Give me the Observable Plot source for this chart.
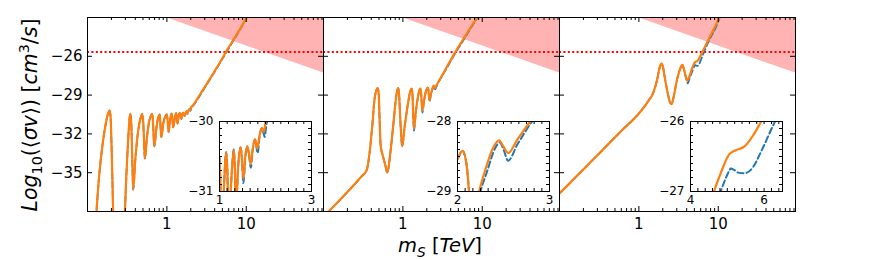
<!DOCTYPE html>
<html><head><meta charset="utf-8">
<script src="https://cdn.jsdelivr.net/npm/d3@7"></script>
<script src="https://cdn.jsdelivr.net/npm/@observablehq/plot@0.6"></script>
<style>
body{margin:0;background:#fff;}
#fig{position:relative;width:871px;height:260px;font-family:"DejaVu Sans";overflow:hidden;}
.box{position:absolute;}
.ylab{position:absolute;left:30px;top:115px;transform:translate(-50%,-50%) rotate(-90deg);white-space:nowrap;font-size:20.5px;line-height:1;}
.xlab{position:absolute;left:440px;top:246px;transform:translate(-50%,-50%);white-space:nowrap;font-size:19.5px;line-height:1;}
sub,sup{font-size:70%;line-height:0;}
</style></head><body><div id="fig">
<div class="ylab"><i>Log</i><sub>10</sub>(⟨<i>σv</i>⟩) [<i>cm</i><sup>3</sup>/<i>s</i>]</div>
<div class="xlab"><i>m</i><sub><i>S</i></sub> [<i>TeV</i>]</div>
</div>
<script>
// ---------- data ----------
const xDomain = [0.1, 94];
const yDomain = [-38, -23];
const yTicks = [-35, -32, -29, -26];
const xMajor = [1, 10];
const xMinor = [0.2,0.3,0.4,0.5,0.6,0.7,0.8,0.9,2,3,4,5,6,7,8,9,20,30,40,50,60,70,80,90];
const relicLine = [-25.66];
const pinkX = [0.97, 94];
const pinkY = [-23, -27.3];

// panel 1 (orange solid, blue dashed)
const p1Orange = [[0.128,-38.5],[0.14,-35.3],[0.155,-32.8],[0.17,-31.2],[0.18,-30.5],[0.189,-30.2],[0.195,-30.6],[0.2,-32.5],[0.206,-35.5],[0.212,-38.5],
[0.29,-38.5],[0.31,-35.0],[0.33,-31.8],[0.34,-30.7],[0.348,-30.45],[0.356,-31.2],[0.366,-33.8],[0.376,-36.3],[0.4,-34.0],[0.43,-32.0],[0.465,-30.8],[0.49,-30.45],[0.505,-31.2],[0.528,-33.9],[0.56,-32.3],[0.6,-31.0],[0.635,-30.55],[0.655,-30.45],[0.67,-31.2],[0.694,-32.96],[0.74,-31.5],[0.78,-30.7],[0.81,-30.5],[0.825,-31.0],[0.85,-32.25],[0.9,-31.2],[0.96,-30.6],[1.0,-30.5],[1.02,-30.9],[1.05,-31.86],[1.1,-30.9],[1.146,-30.44],[1.17,-30.7],[1.2,-31.5],[1.26,-30.8],[1.31,-30.4],[1.33,-30.6],[1.36,-31.2],[1.41,-30.6],[1.46,-30.37],[1.485,-30.5],[1.52,-30.82],[1.56,-30.5],[1.6,-30.35],[1.64,-30.45],[1.68,-30.61],[1.72,-30.4],[1.77,-30.25],[1.795,-30.3],[1.82,-30.39],[1.87,-30.2],[1.92,-30.09],[1.95,-30.12],[1.97,-30.15],[2.0,-30.0],[2.19,-29.7],[2.6,-28.97],[3.2,-28.1],[4.0,-27.15],[5.0,-26.15],[5.5,-25.7],[7.0,-24.65],[8.5,-23.8],[10.0,-23.04],[11.0,-22.5]];
const p1BlueTail = [[1.46,-30.37],[1.485,-30.52],[1.52,-30.88],[1.56,-30.52],[1.6,-30.36],[1.64,-30.47],[1.68,-30.66],[1.72,-30.42],[1.77,-30.26],[1.795,-30.33],[1.83,-30.45],[1.87,-30.22],[1.92,-30.1],[1.95,-30.15],[1.98,-30.22],[2.02,-30.05],[2.19,-29.75],[2.6,-29.05],[3.2,-28.15],[4.0,-27.2],[5.0,-26.2],[5.5,-25.78],[7.0,-24.72],[8.5,-23.85],[10.1,-23.0],[11.0,-22.5]];

// panel 2
const p2Orange = [[0.1,-38.4],[0.2,-36.5],[0.3,-35.3],[0.35,-34.8],[0.38,-33.5],[0.41,-31.5],[0.44,-29.3],[0.465,-28.6],[0.48,-28.46],[0.495,-28.8],[0.51,-31.0],[0.525,-32.9],[0.56,-33.7],[0.6,-34.4],[0.636,-35.0],[0.7,-33.3],[0.76,-31.2],[0.82,-29.2],[0.855,-28.55],[0.875,-28.46],[0.895,-28.9],[0.93,-31.0],[0.98,-32.96],[1.05,-31.5],[1.15,-29.8],[1.24,-28.7],[1.29,-28.5],[1.32,-28.9],[1.35,-30.5],[1.38,-31.6],[1.45,-30.4],[1.55,-29.1],[1.63,-28.55],[1.67,-28.5],[1.7,-28.9],[1.73,-29.6],[1.76,-30.2],[1.85,-29.4],[1.95,-28.7],[2.0,-28.54],[2.054,-28.42],[2.1,-28.63],[2.126,-29.0],[2.17,-29.4],[2.235,-29.0],[2.3,-28.7],[2.397,-28.35],[2.45,-28.27],[2.5,-28.36],[2.55,-28.45],[2.65,-28.26],[2.79,-28.0],[3.0,-27.66],[3.5,-26.93],[4.53,-25.72],[6.0,-24.5],[8.5,-23.04],[9.5,-22.6]];
const p2BlueTail = [[1.35,-30.6],[1.38,-31.75],[1.45,-30.45],[1.55,-29.15],[1.63,-28.56],[1.67,-28.5],[1.7,-28.92],[1.73,-29.7],[1.76,-30.35],[1.85,-29.45],[1.95,-28.72],[2.0,-28.54],[2.054,-28.42],[2.1,-28.63],[2.126,-29.0],[2.17,-29.5],[2.25,-29.0],[2.32,-28.72],[2.41,-28.38],[2.46,-28.3],[2.5,-28.4],[2.55,-28.56],[2.65,-28.33],[2.8,-28.02],[3.0,-27.7],[3.5,-27.0],[4.53,-25.8],[6.0,-24.6],[8.6,-23.05],[9.6,-22.6]];

// panel 3
const p3Orange = [[0.1,-36.6],[0.3,-33.65],[0.6,-31.77],[1.03,-30.33],[1.3,-29.5],[1.52,-28.8],[1.7,-27.8],[1.82,-26.9],[1.93,-26.57],[2.0,-26.75],[2.1,-27.5],[2.3,-28.8],[2.45,-29.5],[2.58,-29.7],[2.75,-29.1],[3.0,-27.9],[3.3,-27.0],[3.52,-26.67],[3.7,-27.0],[3.9,-27.6],[4.07,-27.9],[4.3,-27.6],[4.5,-27.25],[4.64,-27.0],[4.85,-26.7],[5.05,-26.47],[5.23,-26.41],[5.46,-26.36],[5.7,-26.2],[5.91,-26.01],[7.0,-25.1],[8.2,-24.25],[9.75,-23.34],[10.5,-22.9]];
const p3BlueTail = [[4.07,-28.0],[4.12,-28.1],[4.4,-27.6],[4.65,-27.25],[4.82,-27.0],[5.0,-26.76],[5.1,-26.67],[5.18,-26.69],[5.3,-26.73],[5.46,-26.74],[5.69,-26.66],[5.9,-26.45],[6.25,-26.05],[7.5,-24.9],[9.46,-23.67],[10.6,-22.9]];

// insets
const inset1X = [1, 3], inset1Y = [-31, -30];
const inset2X = [2, 3], inset2Y = [-29, -28];
const inset3X = [4, 6.5], inset3Y = [-27, -26];
const inset1XLabels = [1, 3], inset2XLabels = [2, 3], inset3XLabels = [4, 6];
const inset1XTicks = [1.167,1.333,1.5,1.667,1.833,2,2.167,2.333,2.5,2.667,2.833];
const inset2XTicks = [2.083,2.167,2.25,2.333,2.417,2.5,2.583,2.667,2.75,2.833,2.917];
const inset3XTicks = [4.2,4.4,4.6,4.8,5,5.2,5.4,5.6,5.8,6,6.2,6.4];
const inset1YTicks = [-30.9,-30.8,-30.7,-30.6,-30.5,-30.4,-30.3,-30.2,-30.1];
const inset2YTicks = [-28.9,-28.8,-28.7,-28.6,-28.5,-28.4,-28.3,-28.2,-28.1];
const inset3YTicks = [-26.9,-26.8,-26.7,-26.6,-26.5,-26.4,-26.3,-26.2,-26.1];

// ---------- build ----------
const toObj = a => a.map(([x, y]) => ({x, y}));
const withTail = (base, tail) => toObj(base.filter(d => d[0] < tail[0][0]).concat(tail));
const pink = pinkX.map((x, i) => ({x, y: pinkY[i]}));
const fmt = d => (d < 0 ? "\u2212" : "") + Math.abs(d);

const ORANGE = "#ff7f0e", BLUE = "#1f77b4";
const fig = document.getElementById("fig");
const FT = 17, FB = 211, H = 260, PW = 236;

function place(svg, left, top) {
  const d = document.createElement("div");
  d.className = "box"; d.style.left = left + "px"; d.style.top = top + "px";
  d.appendChild(svg); fig.appendChild(d);
}

function panel(orange, blue, frameLeft, showY) {
  const mL = showY ? frameLeft : 6, mR = 6, fh = FB - FT;
  const marks = [
    Plot.areaY(pink, {x: "x", y1: "y", y2: yDomain[1], fill: "#ffb3b3", clip: true}),
    Plot.ruleY(relicLine, {stroke: "red", strokeWidth: 2, strokeDasharray: "2,2.4", clip: true}),
    Plot.line(blue, {x: "x", y: "y", stroke: BLUE, strokeWidth: 1.8, strokeDasharray: "6,3", curve: "monotone-x", clip: true}),
    Plot.line(orange, {x: "x", y: "y", stroke: ORANGE, strokeWidth: 2.2, curve: "monotone-x", clip: true}),
    Plot.ruleX(xMajor, {x: d => d, insetTop: fh - 5}),
    Plot.ruleX(xMajor, {x: d => d, insetBottom: fh - 5}),
    Plot.ruleX(xMinor, {x: d => d, insetTop: fh - 3}),
    Plot.ruleX(xMinor, {x: d => d, insetBottom: fh - 3}),
    Plot.ruleY(yTicks, {y: d => d, insetRight: PW - 5}),
    Plot.ruleY(yTicks, {y: d => d, insetLeft: PW - 5}),
    Plot.frame({stroke: "black"}),
    Plot.axisX({ticks: xMajor, tickSize: 0, tickPadding: 7, tickFormat: d => String(d), label: null, fontSize: 15})
  ];
  if (showY) marks.push(Plot.axisY({ticks: yTicks, tickSize: 0, tickPadding: 5, tickFormat: fmt, label: null, fontSize: 15}));
  const svg = Plot.plot({
    width: mL + PW + mR, height: H,
    marginTop: FT, marginBottom: H - FB, marginLeft: mL, marginRight: mR,
    x: {type: "log", domain: xDomain},
    y: {domain: yDomain, axis: showY ? undefined : null},
    style: {background: "transparent", fontFamily: "DejaVu Sans", fontSize: "15px", overflow: "visible"},
    marks
  });
  place(svg, frameLeft - mL, 0);
}

function inset(orange, blue, left, top, xd, yd, xLab, yLab, xT, yT) {
  const W = 92, Hh = 70, mL = 34, mR = 6, mT = 8, mB = 22;
  const svg = Plot.plot({
    width: mL + W + mR, height: mT + Hh + mB,
    marginTop: mT, marginBottom: mB, marginLeft: mL, marginRight: mR,
    x: {domain: xd}, y: {domain: yd},
    style: {background: "transparent", fontFamily: "DejaVu Sans", fontSize: "12px", overflow: "visible"},
    marks: [
      Plot.frame({fill: "white"}),
      Plot.line(blue, {x: "x", y: "y", stroke: BLUE, strokeWidth: 2, strokeDasharray: "6,3.2", curve: "monotone-x", clip: true}),
      Plot.line(orange, {x: "x", y: "y", stroke: ORANGE, strokeWidth: 2.2, curve: "monotone-x", clip: true}),
      Plot.ruleX(xT, {x: d => d, insetTop: Hh - 3}),
      Plot.ruleX(xT, {x: d => d, insetBottom: Hh - 3}),
      Plot.ruleY(yT, {y: d => d, insetRight: W - 3}),
      Plot.ruleY(yT, {y: d => d, insetLeft: W - 3}),
      Plot.frame({stroke: "black"}),
      Plot.axisX({ticks: xLab, tickSize: 0, tickPadding: 4, tickFormat: d => String(d), label: null, fontSize: 12}),
      Plot.axisY({ticks: yLab, tickSize: 0, tickPadding: 6, tickFormat: fmt, label: null, fontSize: 12})
    ]
  });
  place(svg, left - mL, top - mT);
}

const o1 = toObj(p1Orange), b1 = withTail(p1Orange, p1BlueTail);
const o2 = toObj(p2Orange), b2 = withTail(p2Orange, p2BlueTail);
const o3 = toObj(p3Orange), b3 = withTail(p3Orange, p3BlueTail);

panel(o1, b1, 87, true);
panel(o2, b2, 323, false);
panel(o3, b3, 559, false);
inset(o1, b1, 219, 121, inset1X, inset1Y, inset1XLabels, inset1Y, inset1XTicks, inset1YTicks);
inset(o2, b2, 457, 121, inset2X, inset2Y, inset2XLabels, inset2Y, inset2XTicks, inset2YTicks);
inset(o3, b3, 690, 121, inset3X, inset3Y, inset3XLabels, inset3Y, inset3XTicks, inset3YTicks);
</script>
</body></html>
